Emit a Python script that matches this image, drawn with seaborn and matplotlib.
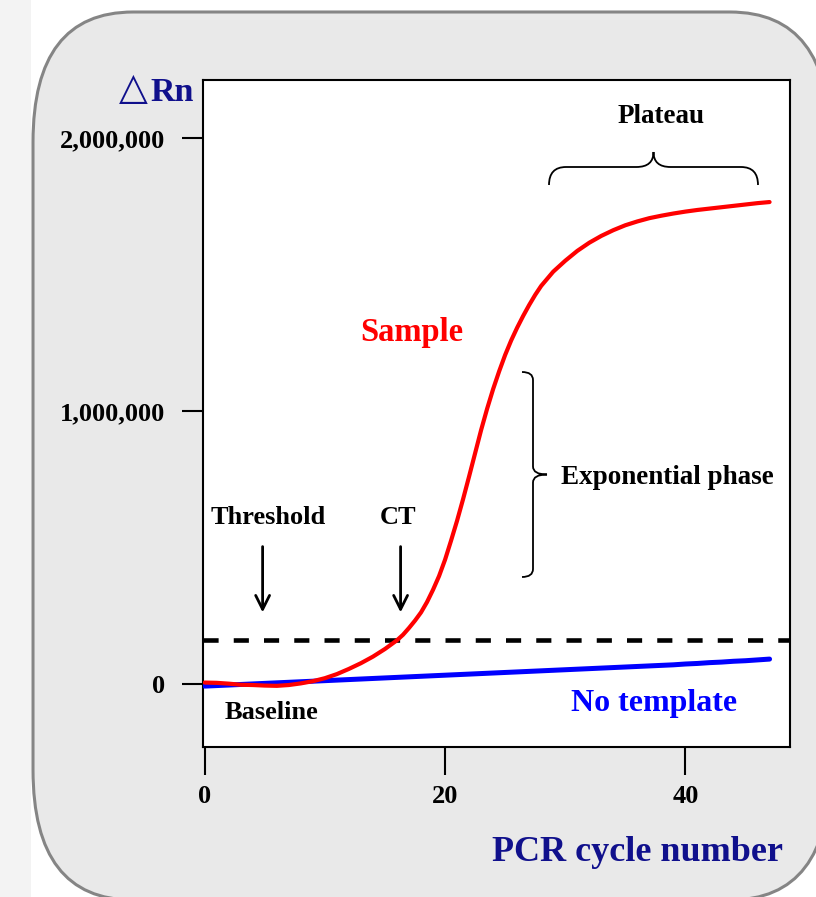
import seaborn as sns
import matplotlib.pyplot as plt
import numpy as np
from matplotlib.patches import FancyBboxPatch, Rectangle, PathPatch
from matplotlib.path import Path

# data (delta Rn per PCR cycle)
sample_cycles = [0, 1, 2, 3, 4, 5, 6, 7, 8, 9, 10, 11, 12, 13, 14, 15,
                 16, 16.5, 17, 17.5, 18, 18.5, 19, 19.5, 20, 20.5, 21, 21.5, 22, 22.5,
                 23, 23.5, 24, 24.5, 25, 25.5, 26, 26.5, 27, 27.5, 28,
                 29, 30, 31, 32, 33, 34, 35, 36, 37, 38, 39, 40, 41, 42, 43, 44, 45, 46, 47]
sample_rn = [5000, 4000, 1000, -3000, -4000, -6000, -7000, -4000, 2000, 10000,
             21000, 36000, 55000, 76000, 100000, 128000,
             160000, 180000, 205000, 232000, 262000, 300000, 345000, 395000, 455000, 525000,
             598000, 677000, 760000, 845000, 930000, 1008000, 1080000, 1145000, 1205000, 1258000,
             1305000, 1348000, 1388000, 1425000, 1458000,
             1510000, 1550000, 1586000, 1616000, 1641000, 1662000, 1680000, 1694000, 1706000,
             1715000, 1723000, 1730000, 1736000, 1741000, 1746000, 1751000, 1756000, 1761000, 1765000]
nt_cycles = list(range(48))
no_template_rn = [-8000, -6000, -4000, -2000, 0, 2000, 4000, 6000, 8000, 10000,
                  12000, 14000, 16000, 18000, 20000, 22000, 24000, 26000, 28000, 30000,
                  32000, 34000, 36000, 38000, 40000, 42000, 44000, 46000, 48000, 50000,
                  52000, 54000, 56000, 58000, 60000, 62000, 64000, 66000, 68000, 70000,
                  73000, 75000, 78000, 80000, 83000, 85000, 88000, 91000]
threshold = 160000
x_ticks = [0, 20, 40]
y_ticks = [0, 1000000, 2000000]
y_tick_labels = ["0", "1,000,000", "2,000,000"]

sns.set_style("white")
plt.rcParams['font.family'] = ['Liberation Serif', 'DejaVu Serif']
plt.rcParams['font.weight'] = 'bold'
plt.rcParams['text.color'] = 'black'

W, H = 816, 897
navy = '#10108c'
fig = plt.figure(figsize=(W / 100, H / 100), dpi=100)
fig.patch.set_facecolor('white')

# grey rounded panel behind the chart (y squashed so the corners come out oval)
sq = 1.3
bg = fig.add_axes([0, 0, 1, 1], zorder=-5)
bg.set_xlim(0, W)
bg.set_ylim(H / sq, 0)
bg.axis('off')
bg.add_patch(Rectangle((0, 0), 31, H / sq, color='#f3f3f3', lw=0))
bg.add_patch(FancyBboxPatch((33, 12 / sq), 830 - 33, (900 - 12) / sq,
                            boxstyle="round,pad=0,rounding_size=100",
                            fc='#e9e9e9', ec='#858585', lw=2.2))

##main plot
ax = fig.add_axes([203 / W, 1 - 747 / H, (790 - 203) / W, (747 - 80) / H])
ax.set_facecolor('white')
sns.lineplot(x=nt_cycles, y=no_template_rn, color='#0000ff', lw=3.6, ax=ax, zorder=3)
sns.lineplot(x=sample_cycles, y=sample_rn, color='#ff0000', lw=3.0, ax=ax, zorder=4)
ax.axhline(threshold, color='black', lw=3.3, linestyle=(0, (3.3, 3.3)), zorder=2)

ax.set_xlim(-0.14, 48.7)
ax.set_ylim(-231000, 2212000)
ax.set_xticks(x_ticks)
ax.set_xticklabels([str(t) for t in x_ticks])
ax.set_yticks(y_ticks)
ax.set_yticklabels(y_tick_labels)
ax.tick_params(axis='x', direction='out', length=20, width=1.5, pad=7, labelsize=19, colors='black')
ax.tick_params(axis='y', direction='out', length=15, width=1.5, pad=12, labelsize=19, colors='black')
ax.tick_params(bottom=True, left=True)
for s in ax.spines.values():
    s.set_visible(True)
    s.set_color('black')
    s.set_linewidth(1.5)
ax.set_xlabel('')
ax.set_ylabel('')

##annotations
ax.text(5.27, 608000, 'Threshold', ha='center', va='center', fontsize=19, color='black')
ax.text(16.05, 608000, 'CT', ha='center', va='center', fontsize=19, color='black')
ax.text(17.25, 1286000, 'Sample', ha='center', va='center', fontsize=23.5, color='#ff0000')
ax.text(38.5, 755000, 'Exponential phase', ha='center', va='center', fontsize=19.5, color='black')
ax.text(38.0, 2079000, 'Plateau', ha='center', va='center', fontsize=19.5, color='black')
ax.text(5.6, -106000, 'Baseline', ha='center', va='center', fontsize=19, color='black')
ax.text(37.4, -73000, 'No template', ha='center', va='center', fontsize=23, color='#0000ff')

arrow = dict(arrowstyle='->', lw=2, color='black', mutation_scale=25, shrinkA=0, shrinkB=0)
ax.annotate('', xy=(4.82, 262000), xytext=(4.82, 503000), arrowprops=arrow)
ax.annotate('', xy=(16.3, 262000), xytext=(16.3, 503000), arrowprops=arrow)


def brace(p0, p1, h1, h2, r):
    # curly brace between two pixel points, tip on the right of the p0->p1 direction
    p0 = np.array(p0, float)
    p1 = np.array(p1, float)
    L = np.linalg.norm(p1 - p0)
    u = (p1 - p0) / L
    n = np.array([u[1], -u[0]])
    loc = [(0, 0), (0, h1), (r, h1), (L / 2 - r, h1), (L / 2, h1), (L / 2, h2),
           (L / 2, h1), (L / 2 + r, h1), (L - r, h1), (L, h1), (L, 0)]
    codes = [Path.MOVETO, Path.CURVE3, Path.CURVE3, Path.LINETO, Path.CURVE3, Path.CURVE3,
             Path.CURVE3, Path.CURVE3, Path.LINETO, Path.CURVE3, Path.CURVE3]
    verts = []
    for s, t in loc:
        p = p0 + s * u + t * n
        verts.append((p[0] / W, 1 - p[1] / H))
    fig.patches.append(PathPatch(Path(verts, codes), fill=False, lw=1.3, ec='black',
                                 transform=fig.transFigure, zorder=10))


brace((522, 372), (522, 577), 11, 25, 8)
brace((549, 185), (758, 185), 18, 33, 17)

##axis titles
fig.text(133 / W, 1 - 99 / H, '\u25b3', ha='center', va='baseline', fontsize=27,
         color=navy, family='DejaVu Sans', fontweight='normal')
fig.text(150 / W, 1 - 101 / H, 'Rn', ha='left', va='baseline', fontsize=24.5, color=navy)
fig.text(638 / W, 1 - 852 / H, 'PCR cycle number', ha='center', va='center', fontsize=26, color=navy)

fig.savefig('out.png', dpi=100)
